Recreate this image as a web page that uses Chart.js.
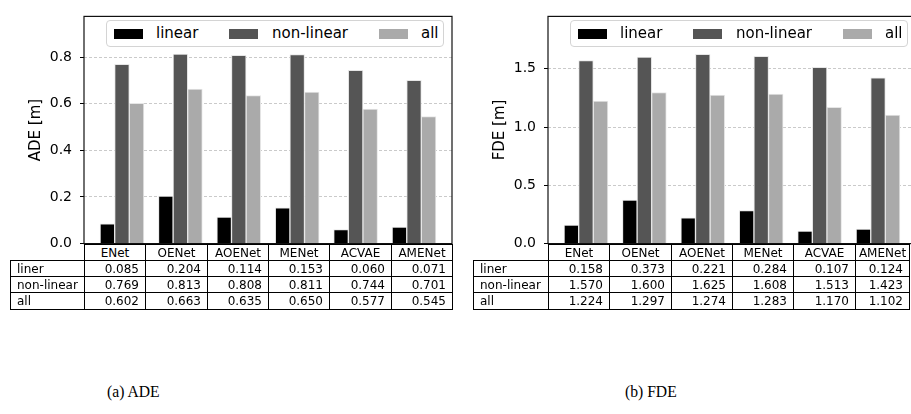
<!DOCTYPE html>
<html>
<head>
<meta charset="utf-8">
<script src="https://cdn.jsdelivr.net/npm/chart.js@4"></script>
<style>
  html, body { margin: 0; padding: 0; background: #fff; }
  body { width: 911px; height: 414px; position: relative; overflow: hidden; font-family: "DejaVu Sans", sans-serif; color: #000; }
  canvas { position: absolute; top: 0; }
  .legend { position: absolute; top: 20px; width: 338px; height: 27px; box-sizing: border-box; border: 1px solid #d4d4d4; border-radius: 4px; background: #fff; font-size: 15px; }
  .legend .sw { position: absolute; top: 8px; width: 29px; height: 10px; }
  .legend .lb { position: absolute; top: 3px; line-height: 18px; }
  .cell { position: absolute; box-sizing: border-box; border: 1px solid #000; display: flex; align-items: center; padding: 0 6px; font-size: 12px; line-height: 1; background: #fff; white-space: nowrap; }
  .caption { position: absolute; top: 382px; font-family: "Liberation Serif", serif; font-size: 17px; transform: scaleX(0.92); transform-origin: left center; }
</style>
</head>
<body>
<canvas id="ade" width="460" height="260" style="left:0"></canvas>
<canvas id="fde" width="464" height="260" style="left:460px"></canvas>
<div class="caption" style="left:107px">(a) ADE</div>
<div class="caption" style="left:625px">(b) FDE</div>
<script>
const models = ['ENet', 'OENet', 'AOENet', 'MENet', 'ACVAE', 'AMENet'];
const seriesLabels = ['linear', 'non-linear', 'all'];
const tableRowLabels = ['liner', 'non-linear', 'all'];

const adeLinear = [0.085, 0.204, 0.114, 0.153, 0.060, 0.071];
const adeNonLinear = [0.769, 0.813, 0.808, 0.811, 0.744, 0.701];
const adeAll = [0.602, 0.663, 0.635, 0.650, 0.577, 0.545];

const fdeLinear = [0.158, 0.373, 0.221, 0.284, 0.107, 0.124];
const fdeNonLinear = [1.570, 1.600, 1.625, 1.608, 1.513, 1.423];
const fdeAll = [1.224, 1.297, 1.274, 1.283, 1.170, 1.102];

const adeTicks = [0, 0.2, 0.4, 0.6, 0.8];
const fdeTicks = [0, 0.5, 1.0, 1.5];

const barColors = ['#000000', '#555555', '#aaaaaa'];

// black box round the plot area, like matplotlib spines
const frame = {
    id: 'frame',
    afterDatasetsDraw(chart) {
        const { ctx, chartArea: a } = chart;
        ctx.save();
        ctx.strokeStyle = '#111';
        ctx.lineWidth = 1.2;
        ctx.strokeRect(a.left, a.top, a.right - a.left, a.bottom - a.top);
        ctx.restore();
    }
};

function drawPanel(id, series, ticks, yMax, title, axisWidth, titlePad) {
    return new Chart(document.getElementById(id), {
        type: 'bar',
        data: {
            datasets: series.map((values, k) => ({
                label: seriesLabels[k],
                data: values.map((v, i) => ({ x: i, y: v })),
                backgroundColor: barColors[k],
                borderColor: '#e6e6e6',
                borderWidth: 1,
                barThickness: 14.6
            }))
        },
        options: {
            responsive: false,
            animation: false,
            devicePixelRatio: 1,
            layout: { padding: { top: 13, right: 8, bottom: 16, left: 0 } },
            plugins: { legend: { display: false }, tooltip: { enabled: false } },
            scales: {
                x: {
                    type: 'linear', display: false, offset: false,
                    min: -0.65, max: models.length - 0.35,
                    ticks: { stepSize: 1, includeBounds: false }
                },
                y: {
                    min: 0, max: yMax,
                    afterBuildTicks: s => { s.ticks = ticks.map(v => ({ value: v })); },
                    afterFit: s => { s.width = axisWidth; },
                    ticks: {
                        padding: 8, color: '#000',
                        font: { family: 'DejaVu Sans', size: 14 },
                        callback: v => v.toFixed(1)
                    },
                    grid: { color: '#bdbdbd', lineWidth: 0.8, tickLength: 4, tickColor: '#000', tickWidth: 1 },
                    border: { display: false, dash: [3, 2] },
                    title: {
                        display: true, text: title, color: '#000',
                        font: { family: 'DejaVu Sans', size: 15 },
                        padding: { top: titlePad, bottom: 0 }
                    }
                }
            }
        },
        plugins: [frame]
    });
}

function drawLegend(left) {
    const box = document.createElement('div');
    box.className = 'legend';
    box.style.left = left + 'px';
    const swatchX = [7, 122, 272];
    const textX = [49, 165, 314];
    seriesLabels.forEach((name, k) => {
        const sw = document.createElement('div');
        sw.className = 'sw';
        sw.style.left = swatchX[k] + 'px';
        sw.style.background = barColors[k];
        const lb = document.createElement('div');
        lb.className = 'lb';
        lb.style.left = textX[k] + 'px';
        lb.textContent = name;
        box.appendChild(sw);
        box.appendChild(lb);
    });
    document.body.appendChild(box);
}

function cell(x0, x1, y0, y1, text, align) {
    const d = document.createElement('div');
    d.className = 'cell';
    d.style.left = Math.round(x0) + 'px';
    d.style.top = y0 + 'px';
    d.style.width = (Math.round(x1) - Math.round(x0) + 1) + 'px';
    d.style.height = (y1 - y0 + 1) + 'px';
    d.style.justifyContent = align;
    d.textContent = text;
    document.body.appendChild(d);
}

function drawTable(left, labelW, lastEdge, series) {
    const rowTops = [244, 260, 276, 292, 309];
    const colW = 368 / models.length;
    const edges = models.map((m, i) => left + labelW + i * colW);
    edges.push(lastEdge);
    models.forEach((m, i) => cell(edges[i], edges[i + 1], rowTops[0], rowTops[1], m, 'center'));
    series.forEach((values, r) => {
        const y0 = rowTops[r + 1], y1 = rowTops[r + 2];
        cell(left, left + labelW, y0, y1, tableRowLabels[r], 'flex-start');
        values.forEach((v, i) => cell(edges[i], edges[i + 1], y0, y1, v.toFixed(3), 'flex-end'));
    });
}

const adeSeries = [adeLinear, adeNonLinear, adeAll];
const fdeSeries = [fdeLinear, fdeNonLinear, fdeAll];

drawPanel('ade', adeSeries, adeTicks, 0.975, 'ADE [m]', 84, 27);
drawPanel('fde', fdeSeries, fdeTicks, 1.95, 'FDE [m]', 88, 31);
drawLegend(106);
drawLegend(570);
drawTable(10, 74, 452, adeSeries);
drawTable(473, 75, 909, fdeSeries);
</script>
</body>
</html>
